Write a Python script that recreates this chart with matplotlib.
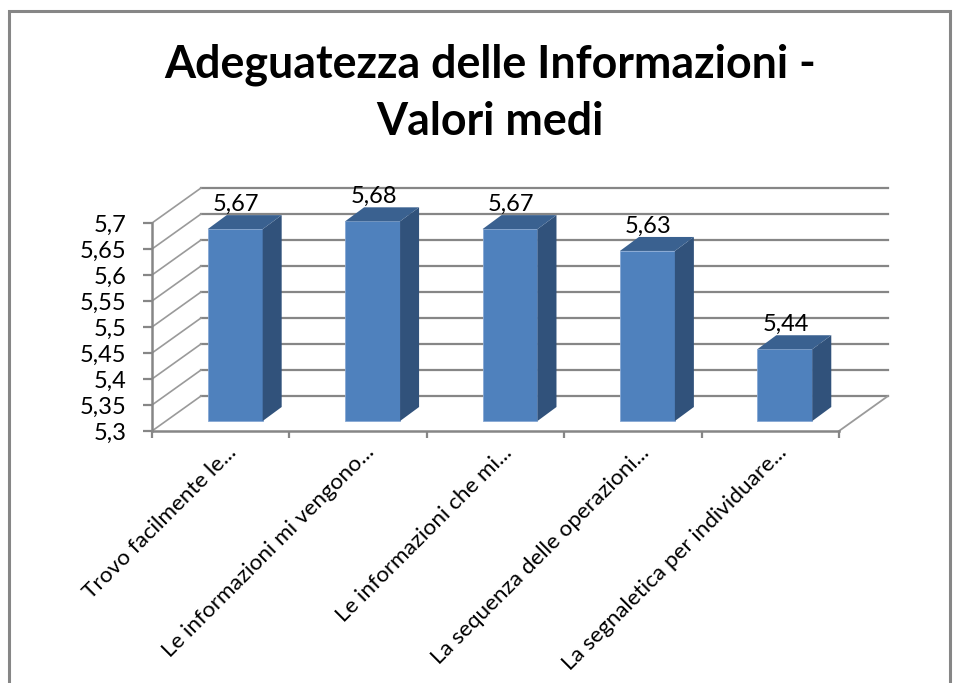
import matplotlib
matplotlib.use("Agg")
import matplotlib.pyplot as plt
from matplotlib.patches import Polygon, Rectangle
from matplotlib.transforms import Affine2D

title = "Adeguatezza delle Informazioni -\nValori medi"
categories = ["Trovo facilmente le...", "Le informazioni mi vengono...",
              "Le informazioni che mi...", "La sequenza delle operazioni...",
              "La segnaletica per individuare..."]
values = [5.669, 5.684, 5.669, 5.627, 5.438]
y_ticks = [5.3, 5.35, 5.4, 5.45, 5.5, 5.55, 5.6, 5.65, 5.7]
y_labels = ["5,3", "5,35", "5,4", "5,45", "5,5", "5,55", "5,6", "5,65", "5,7"]

W, H = 957, 683
GRAY = "#868686"
plt.rcParams['font.family'] = ['Lato', 'DejaVu Sans']
fig = plt.figure(figsize=(W / 100, H / 100), dpi=100, facecolor="white")
fig.add_artist(Rectangle((9.2 / W, -0.02), (950 - 9.2) / W, 1.02 - 10.5 / H,
                         transform=fig.transFigure, fill=False, ec=GRAY, lw=2.2))
L, R, T, B = 152, 839, 223, 431
ax = fig.add_axes([L / W, 1 - B / H, (R - L) / W, (B - T) / H])
ax.set_xlim(-0.5, 4.5)
ax.set_ylim(5.3, 5.7)
ax.patch.set_alpha(0)


def shift(dx, dy):
    return ax.transData + Affine2D().translate(dx, dy)


back = shift(49, 35)
front = shift(14.5, 10)
bar_back = shift(14.5 + 19, 10 + 14)
x0, x1 = -0.5, 4.5

# walls and gridlines
for v in y_ticks:
    ax.plot([x0, x1], [v, v], transform=back, color=GRAY, lw=1.6, clip_on=False, zorder=1)
    p0 = ax.transData.transform((x0, v))
    ax.plot([p0[0], p0[0] + 49], [p0[1], p0[1] + 35], transform=None, color="#9a9a9a",
            lw=1.2, clip_on=False, zorder=1)
pr = ax.transData.transform((x1, 5.3))
ax.plot([pr[0], pr[0] + 49], [pr[1], pr[1] + 35], transform=None, color="#9a9a9a",
        lw=1.3, clip_on=False, zorder=1)

# bars
width = 0.40
xs = list(range(len(values)))
ax.bar(xs, [v - 5.3 for v in values], width=width, bottom=5.3, color="#4F81BD",
       edgecolor="#86A8D4", linewidth=0.6, transform=front, clip_on=False, zorder=3)
for x, v in zip(xs, values):
    a, b = x - width / 2, x + width / 2
    side = [front.transform(c) for c in [(b, 5.3), (b, v)]] + \
           [bar_back.transform(c) for c in [(b, v), (b, 5.3)]]
    top = [front.transform(c) for c in [(a, v), (b, v)]] + \
          [bar_back.transform(c) for c in [(b, v), (a, v)]]
    ax.add_patch(Polygon(side, closed=True, transform=None, fc="#31527B", ec="none",
                         clip_on=False, zorder=3))
    ax.add_patch(Polygon(top, closed=True, transform=None, fc="#3A6190", ec="none",
                         clip_on=False, zorder=3))
    ax.annotate(f"{v:.2f}".replace(".", ","), xy=(x, v), xycoords=front, xytext=(1, 25),
                textcoords="offset pixels", ha="center", va="center", fontsize=17,
                color="black", annotation_clip=False, zorder=4)

# axes
for s in ("top", "right"):
    ax.spines[s].set_visible(False)
for s in ("left", "bottom"):
    ax.spines[s].set_color(GRAY)
    ax.spines[s].set_linewidth(1.8)
    ax.spines[s].set_zorder(2)
ax.set_yticks(y_ticks, y_labels, fontsize=17, color="black")
ax.tick_params(axis="y", length=6.5, width=1.6, color=GRAY, pad=12)
ax.set_xticks(xs, categories, fontsize=16.2, color="black", rotation=45, ha="right",
              rotation_mode="anchor")
ax.set_xticks([x - 0.5 for x in xs] + [xs[-1] + 0.5], minor=True)
ax.tick_params(axis="x", which="major", length=0, pad=8)
ax.tick_params(axis="x", which="minor", length=5, width=1.6, color=GRAY)
for lab in ax.get_xticklabels():
    lab.set_transform(lab.get_transform() + Affine2D().translate(6, 0))

fig.text(490 / W, 1 - 93 / H, title, ha="center", va="center", fontsize=32.2, fontweight="bold",
         color="black", linespacing=1.45)
fig.savefig("out.png", dpi=100, facecolor="white")
